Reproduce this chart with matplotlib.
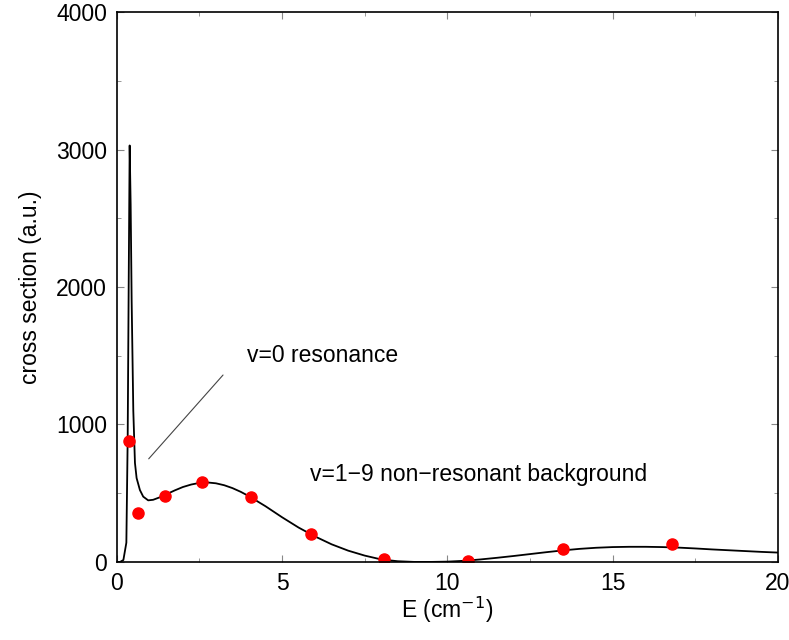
import matplotlib
matplotlib.use("Agg")
import matplotlib.pyplot as plt
from matplotlib.ticker import MultipleLocator

# curve
energy = [0.0, 0.1, 0.2, 0.29, 0.33, 0.36, 0.39, 0.42, 0.45, 0.5, 0.55, 0.6,
          0.7, 0.8, 0.95, 1.1, 1.3, 1.5, 1.75, 2.0, 2.25, 2.5, 2.75, 3.0,
          3.25, 3.5, 3.75, 4.0, 4.5, 5.0, 5.5, 6.0, 6.5, 7.0, 7.5, 8.0,
          8.5, 9.0, 9.5, 10.0, 10.5, 11.0, 11.5, 12.0, 12.5, 13.0, 13.5,
          14.0, 14.5, 15.0, 15.5, 16.0, 16.5, 17.0, 17.5, 18.0, 18.5,
          19.0, 19.5, 20.0]
cross = [0, 0, 14, 140, 900, 2000, 3030, 2600, 1900, 1100, 720, 610,
         523, 475, 448, 452, 470, 492, 520, 545, 563, 575, 578, 572,
         558, 537, 510, 478, 405, 325, 250, 185, 128, 82, 46, 18,
         5, 0, 0, 2, 8, 18, 30, 43, 57, 71, 84, 95, 103, 108, 110, 110,
         108, 104, 98, 91, 85, 79, 73, 68]

# red points
pts_e = [0.37, 0.65, 1.45, 2.59, 4.06, 5.88, 8.07, 10.62, 13.5, 16.78]
pts_s = [882, 354, 478, 584, 473, 206, 19, 10, 92, 128]

plt.rcParams['font.family'] = ['Liberation Sans', 'DejaVu Sans']

fig = plt.figure(figsize=(7.89, 6.4), dpi=100)
ax = fig.add_axes([0.148, 0.122, 0.838, 0.859])

ax.plot(energy, cross, color='black', lw=1.3)
ax.plot(pts_e, pts_s, 'o', color='red', ms=8, mec='red')

ax.annotate('', xy=(0.91, 735), xytext=(3.27, 1375),
            arrowprops=dict(arrowstyle='-', color='#444444', lw=0.8))
ax.text(3.94, 1505, 'v=0 resonance', fontsize=16.5, va='center')
ax.text(5.85, 633, 'v=1\u22129 non\u2212resonant background', fontsize=16.5, va='center')

ax.set_xlim(0, 20)
ax.set_ylim(0, 4000)
ax.xaxis.set_major_locator(MultipleLocator(5))
ax.xaxis.set_minor_locator(MultipleLocator(2.5))
ax.yaxis.set_major_locator(MultipleLocator(1000))
ax.yaxis.set_minor_locator(MultipleLocator(500))
ax.tick_params(which='both', direction='in', top=True, right=True,
               color='#888888', labelsize=16.5, pad=7)
ax.tick_params(which='major', length=5)
ax.tick_params(which='minor', length=3)
for s in ax.spines.values():
    s.set_linewidth(1.2)

ax.set_xlabel('E (cm$^{-1}$)', fontsize=16.5, labelpad=0)
ax.set_ylabel('cross section (a.u.)', fontsize=16.5, labelpad=10)

fig.savefig('out.png', dpi=100)
